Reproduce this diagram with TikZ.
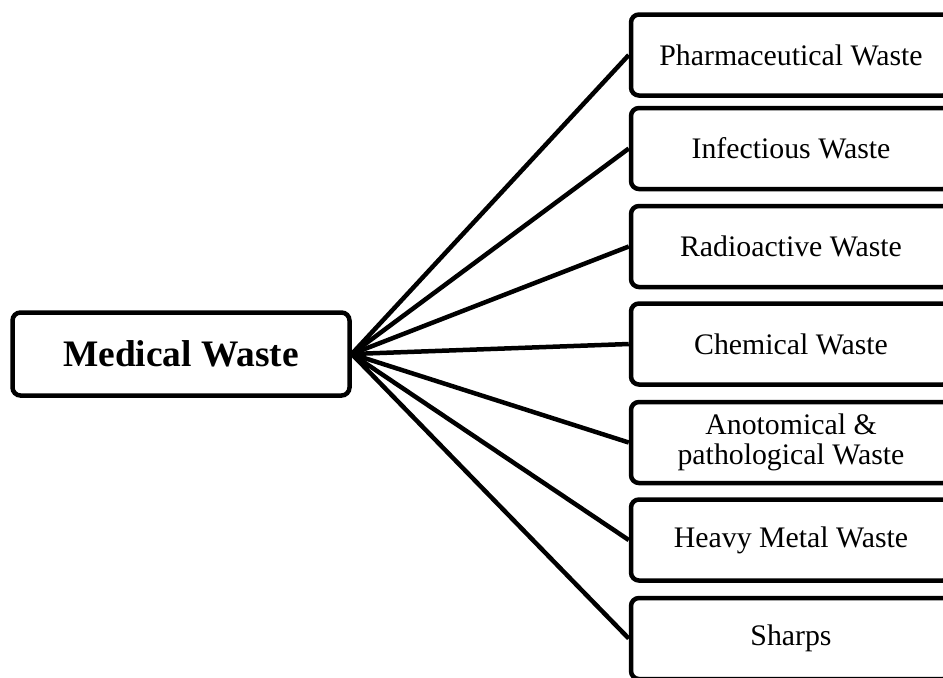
\documentclass[tikz,border=0pt]{standalone}
\usepackage{fontspec}
\setmainfont{Liberation Serif}
\begin{document}
\begin{tikzpicture}[x=0.5pt,y=-0.5pt,
  catbox/.style={draw=black, line width=2.25pt, rounded corners=4pt, fill=white,
    minimum width=160pt, minimum height=40.5pt, inner sep=0pt, align=center,
    font=\fontsize{14.9}{15.1}\selectfont},
  rootbox/.style={draw=black, line width=2.25pt, rounded corners=4pt, fill=white,
    minimum width=168.5pt, minimum height=41.5pt, inner sep=0pt,
    font=\fontsize{18.7}{20}\selectfont\bfseries},
  link/.style={draw=black, line width=2.25pt}]
\useasboundingbox (0,0) rectangle (943,677);
\clip (0,0) rectangle (943,677);
% root of the classification
\node[rootbox] (root) at (181,354) {Medical Waste};
% waste categories
\node[catbox] (c1) at (791,55) {Pharmaceutical Waste};
\node[catbox] (c2) at (791,148.5) {Infectious Waste};
\node[catbox] (c3) at (791,246.5) {Radioactive Waste};
\node[catbox] (c4) at (791,344) {Chemical Waste};
\node[catbox] (c5) at (791,442.5) {Anotomical \&\\pathological Waste};
\node[catbox] (c6) at (791,540) {Heavy Metal Waste};
\node[catbox] (c7) at (791,638.5) {Sharps};
% connectors fanning out from the root
\foreach \c in {c1,c2,c3,c4,c5,c6,c7}
  \draw[link] (root.east) -- (\c.west);
\end{tikzpicture}
\end{document}
